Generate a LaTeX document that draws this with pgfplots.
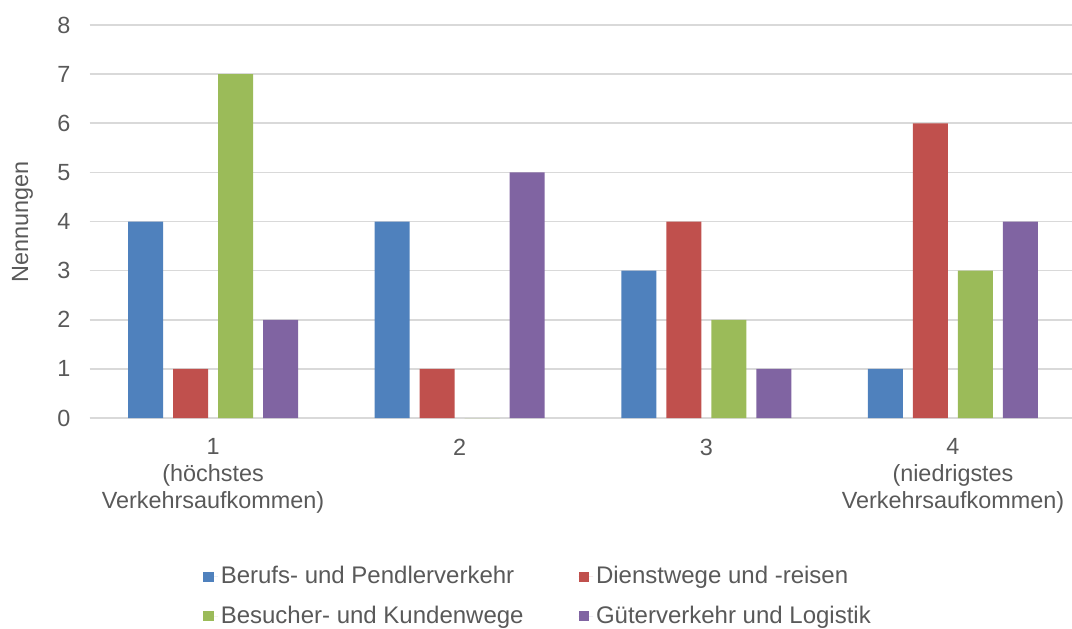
\documentclass[border=0pt]{standalone}
\usepackage{fontspec}
\setmainfont{Liberation Sans}
\usepackage{pgfplots}
\pgfplotsset{compat=1.18}
\definecolor{cblue}{HTML}{4F81BD}
\definecolor{cred}{HTML}{C0504D}
\definecolor{cgreen}{HTML}{9BBB59}
\definecolor{cpurple}{HTML}{8064A2}
\definecolor{txt}{HTML}{595959}
\definecolor{gridc}{HTML}{D9D9D9}
\pgfplotsset{sq legend/.style={legend image code/.code={\fill[##1] (0pt,-2.6pt) rectangle (5.2pt,2.6pt); \path (0pt,0pt) -- (7.2pt,0pt);}}}
\begin{document}
\begin{tikzpicture}
\useasboundingbox (0,0) rectangle (536pt,314pt);
\begin{axis}[
  at={(44.85pt,105pt)}, anchor=south west,
  scale only axis, width=493.3pt, height=196.5pt,
  xmin=0.5, xmax=4.5, ymin=0, ymax=8,
  ytick={0,1,...,8}, xtick={1,2,3,4},
  xticklabels={1\\(höchstes\\Verkehrsaufkommen), 2, 3, 4\\(niedrigstes\\Verkehrsaufkommen)},
  axis x line*=bottom, axis y line*=left,
  x axis line style={-, draw=gridc, line width=0.8pt},
  y axis line style={draw=none},
  major tick length=0pt,
  ymajorgrids, grid style={draw=gridc, line width=0.8pt},
  /pgf/number format/assume math mode=true,
  ticklabel style={font=\fontsize{11.7}{13.4}\selectfont, text=txt},
  xticklabel style={align=center, anchor=north, inner sep=0pt, yshift=-10.2pt},
  yticklabel style={anchor=east, inner sep=0pt, xshift=-9.5pt},
  ylabel={Nennungen},
  ylabel style={at={(axis description cs:-0.068,0.5)}, anchor=center, font=\fontsize{11.7}{13.4}\selectfont, text=txt},
  legend columns=2,
  legend cell align=left,
  legend style={draw=none, fill=none, at={(0.455,-0.454)}, anchor=center,
    font=\fontsize{12}{13.4}\selectfont, text=txt,
    nodes={inner sep=1.5pt},
    /tikz/every even column/.append style={column sep=26pt},
    row sep=6.5pt},
]
\addplot[ybar, fill=cblue, draw=none, bar width=17.5pt, bar shift=-33.75pt, sq legend] coordinates {(1,4) (2,4) (3,3) (4,1)};
\addplot[ybar, fill=cred, draw=none, bar width=17.5pt, bar shift=-11.25pt, sq legend] coordinates {(1,1) (2,1) (3,4) (4,6)};
\addplot[ybar, fill=cgreen, draw=none, bar width=17.5pt, bar shift=11.25pt, sq legend] coordinates {(1,7) (2,0) (3,2) (4,3)};
\addplot[ybar, fill=cpurple, draw=none, bar width=17.5pt, bar shift=33.75pt, sq legend] coordinates {(1,2) (2,5) (3,1) (4,4)};
\legend{Berufs- und Pendlerverkehr, Dienstwege und -reisen, Besucher- und Kundenwege, Güterverkehr und Logistik}
\end{axis}
\end{tikzpicture}
\end{document}
